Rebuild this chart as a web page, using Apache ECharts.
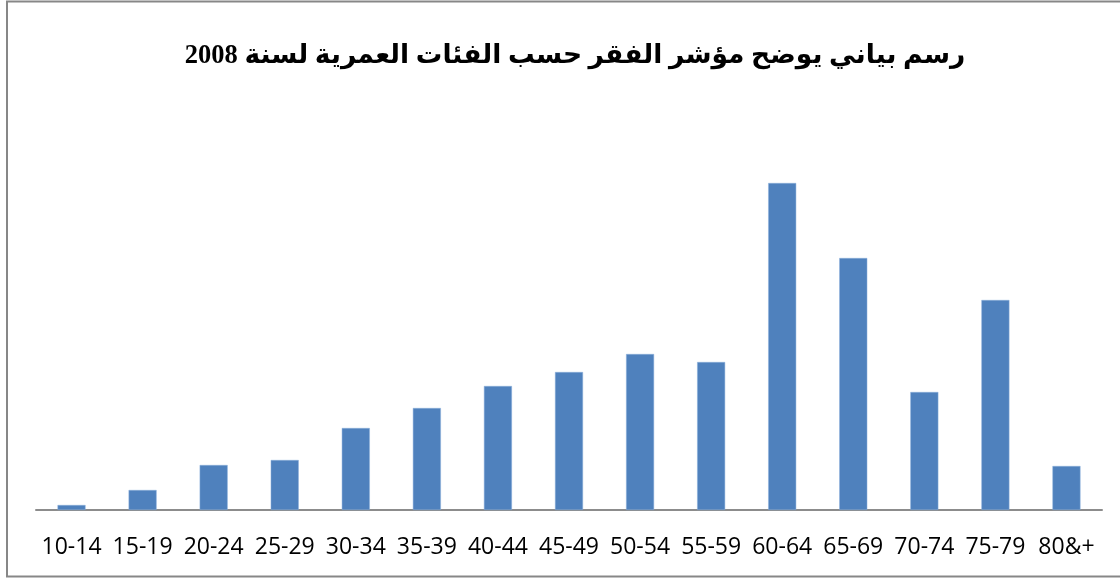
<!DOCTYPE html>
<html>
<head>
<meta charset="utf-8">
<script src="https://cdn.jsdelivr.net/npm/echarts@6/dist/echarts.min.js"></script>
<style>
html,body{margin:0;padding:0;background:#fff;}
#chart{width:1120px;height:578px;}
</style>
</head>
<body>
<div id="chart"></div>
<script>
const titleText = 'رسم بياني يوضح مؤشر الفقر حسب الفئات العمرية لسنة 2008';
const categories = ['10-14','15-19','20-24','25-29','30-34','35-39','40-44','45-49','50-54','55-59','60-64','65-69','70-74','75-79','80&+'];
const povertyIndex = [0.5, 2.0, 4.5, 5.0, 8.2, 10.2, 12.4, 13.8, 15.6, 14.8, 32.7, 25.2, 11.8, 21.0, 4.4];

const chart = echarts.init(document.getElementById('chart'), null, {renderer:'canvas'});
chart.setOption({
  animation: false,
  backgroundColor: '#ffffff',
  title: {
    text: titleText,
    left: 570,
    textAlign: 'center',
    top: 38,
    textStyle: {
      fontFamily: '"Liberation Serif", "DejaVu Sans", serif',
      fontWeight: 'bold',
      fontSize: 26.5,
      color: '#000'
    }
  },
  graphic: [{
    type: 'rect',
    shape: {x: 7, y: 1.5, width: 1130, height: 575},
    style: {fill: 'none', stroke: '#878787', lineWidth: 2},
    silent: true,
    z: 10
  }],
  grid: {left: 36, right: 18, top: 110, bottom: 68, containLabel: false},
  xAxis: {
    type: 'category',
    data: categories,
    axisLine: {lineStyle: {color: '#8c8c8c', width: 2}},
    axisTick: {show: false},
    axisLabel: {
      color: '#000',
      fontFamily: '"Open Sans", "Liberation Sans", sans-serif',
      fontSize: 23,
      margin: 26,
      interval: 0
    }
  },
  yAxis: {
    type: 'value',
    min: 0,
    max: 40,
    show: false,
    splitLine: {show: false}
  },
  series: [{
    type: 'bar',
    data: povertyIndex,
    barWidth: 28,
    itemStyle: {color: '#4f81bd', borderColor: '#8db0dc', borderWidth: 0.5}
  }]
});
</script>
</body>
</html>
